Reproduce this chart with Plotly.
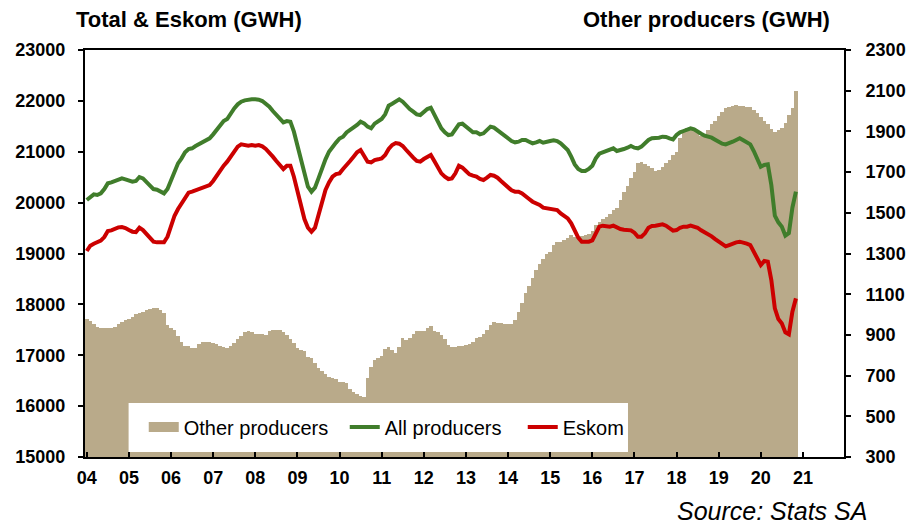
import plotly.graph_objects as go

# ---------------- data (monthly, Jan 2004 - Nov 2020) ----------------
start_year = 2004

all_producers = [
    20051, 20097, 20163, 20150, 20182, 20267, 20379, 20398, 20425, 20451, 20477, 20457,  # 2004
    20425, 20411, 20425, 20503, 20477, 20411, 20333, 20267, 20254, 20228, 20182, 20267,  # 2005
    20444, 20641, 20772, 20870, 20988, 21054, 21067, 21113, 21146, 21185, 21211, 21263,  # 2006
    21342, 21427, 21526, 21604, 21644, 21755, 21853, 21932, 21984, 22010, 22030, 22030,  # 2007
    22030, 22024, 21997, 21952, 21886, 21801, 21722, 21670, 21578, 21604, 21591, 21395,  # 2008
    21132, 20837, 20543, 20313, 20215, 20294, 20477, 20674, 20850, 21000, 21100, 21180,  # 2009
    21260, 21296, 21381, 21427, 21473, 21526, 21591, 21558, 21493, 21460, 21552, 21604,  # 2010
    21644, 21735, 21906, 21945, 21984, 22030, 21984, 21906, 21840, 21788, 21735, 21722,  # 2011
    21788, 21840, 21866, 21735, 21578, 21460, 21381, 21329, 21342, 21447, 21539, 21552,  # 2012
    21493, 21427, 21381, 21381, 21342, 21362, 21427, 21493, 21473, 21421, 21381, 21329,  # 2013
    21277, 21211, 21185, 21198, 21231, 21231, 21198, 21165, 21185, 21211, 21178, 21185,  # 2014
    21211, 21224, 21211, 21165, 21100, 21034, 20903, 20752, 20661, 20621, 20621, 20661,  # 2015
    20726, 20870, 20962, 20988, 21028, 21041, 21067, 21014, 21028, 21054, 21080, 21113,  # 2016
    21080, 21067, 21100, 21165, 21231, 21264, 21264, 21277, 21296, 21290, 21264, 21244,  # 2017
    21329, 21381, 21408, 21434, 21460, 21440, 21408, 21355, 21316, 21303, 21277, 21237,  # 2018
    21198, 21159, 21145, 21165, 21198, 21231, 21264, 21224, 21185, 21145, 21014, 20857,  # 2019
    20706, 20740, 20752, 20346, 19743, 19612, 19527, 19350, 19400, 19900, 20215,         # 2020
]

eskom = [
    19049, 19153, 19193, 19219, 19252, 19324, 19442, 19455, 19488, 19514, 19520, 19501,  # 2004
    19461, 19429, 19422, 19507, 19461, 19376, 19298, 19232, 19219, 19212, 19219, 19330,  # 2005
    19547, 19743, 19874, 19992, 20110, 20195, 20215, 20241, 20261, 20294, 20320, 20346,  # 2006
    20425, 20530, 20621, 20726, 20805, 20910, 21014, 21100, 21146, 21132, 21119, 21132,  # 2007
    21119, 21132, 21106, 21054, 20988, 20903, 20818, 20726, 20660, 20726, 20726, 20510,  # 2008
    20215, 19920, 19678, 19507, 19429, 19507, 19769, 20031, 20248, 20399, 20510, 20560,  # 2009
    20575, 20661, 20726, 20818, 20903, 20988, 21034, 20936, 20805, 20792, 20837, 20851,  # 2010
    20870, 20936, 21054, 21132, 21172, 21159, 21113, 21034, 20949, 20883, 20818, 20805,  # 2011
    20857, 20903, 20936, 20818, 20687, 20575, 20510, 20464, 20477, 20575, 20726, 20687,  # 2012
    20621, 20556, 20530, 20510, 20464, 20444, 20490, 20543, 20530, 20490, 20425, 20359,  # 2013
    20307, 20241, 20215, 20215, 20182, 20117, 20071, 20018, 19986, 19953, 19900, 19887,  # 2014
    19887, 19874, 19855, 19789, 19743, 19691, 19592, 19461, 19311, 19232, 19232, 19232,  # 2015
    19258, 19376, 19527, 19547, 19533, 19527, 19547, 19507, 19481, 19468, 19461, 19455,  # 2016
    19409, 19330, 19330, 19396, 19507, 19540, 19547, 19560, 19573, 19547, 19494, 19448,  # 2017
    19461, 19507, 19527, 19527, 19547, 19533, 19507, 19455, 19416, 19389, 19337, 19284,  # 2018
    19232, 19186, 19140, 19166, 19199, 19219, 19232, 19219, 19193, 19166, 19035, 18904,  # 2019
    18773, 18852, 18839, 18478, 17921, 17712, 17626, 17450, 17410, 17855, 18118,         # 2020
]

other_producers = [
    978, 968, 952, 939, 932, 932, 932, 932, 940, 952, 965, 975,              # 2004
    978, 990, 1001, 1006, 1014, 1024, 1026, 1031, 1034, 1022, 1006, 949,     # 2005
    936, 924, 896, 867, 847, 844, 837, 834, 854, 863, 865, 863,              # 2006
    860, 854, 845, 841, 837, 845, 862, 880, 896, 913, 919, 913,              # 2007
    906, 903, 903, 900, 919, 922, 924, 922, 913, 900, 880, 858,              # 2008
    834, 827, 821, 793, 788, 760, 739, 723, 706, 695, 690, 682,              # 2009
    670, 669, 662, 634, 618, 608, 601, 596, 687, 744, 777, 788,              # 2010
    798, 831, 841, 826, 809, 842, 883, 875, 883, 903, 919, 919,              # 2011
    919, 932, 945, 919, 913, 900, 880, 850, 842, 842, 844, 844,              # 2012
    850, 857, 867, 883, 890, 906, 924, 949, 965, 960, 957, 955,              # 2013
    952, 955, 973, 1014, 1055, 1104, 1142, 1181, 1219, 1247, 1273, 1296,     # 2014
    1309, 1342, 1355, 1358, 1366, 1378, 1391, 1381, 1378, 1385, 1391, 1397,  # 2015
    1411, 1440, 1456, 1470, 1478, 1494, 1514, 1525, 1563, 1601, 1633, 1673,  # 2016
    1699, 1746, 1751, 1740, 1728, 1719, 1705, 1712, 1727, 1743, 1759, 1784,  # 2017
    1800, 1866, 1902, 1915, 1915, 1912, 1892, 1879, 1888, 1908, 1935, 1951,  # 2018
    1977, 1997, 2013, 2022, 2023, 2030, 2026, 2023, 2022, 2018, 2005, 1989,  # 2019
    1972, 1951, 1935, 1912, 1895, 1907, 1915, 1940, 1981, 2017, 2099,        # 2020
]

year_ticks = list(range(2004, 2022))
year_labels = ["04", "05", "06", "07", "08", "09", "10", "11", "12",
               "13", "14", "15", "16", "17", "18", "19", "20", "21"]

# month positions as decimal years
x = [start_year + i / 12 for i in range(len(other_producers))]

BAR = "#B9AA8A"
GREEN = "#407D2B"
RED = "#CC0000"
FONT = "Arial, Liberation Sans, sans-serif"

fig = go.Figure()

fig.add_trace(go.Bar(
    x=x, y=other_producers, name="Other producers", yaxis="y",
    marker=dict(color=BAR, line=dict(width=0)), width=1 / 12,
    showlegend=False,
))
# legend proxy for the bar series (wide swatch as in the original)
fig.add_trace(go.Scatter(
    x=[None], y=[None], mode="lines", name="Other producers", yaxis="y",
    line=dict(color=BAR, width=12), legendwidth=156,
))
fig.add_trace(go.Scatter(
    x=x, y=all_producers, name="All producers", yaxis="y2", mode="lines",
    line=dict(color=GREEN, width=4), legendwidth=133,
))
fig.add_trace(go.Scatter(
    x=x, y=eskom, name="Eskom", yaxis="y2", mode="lines",
    line=dict(color=RED, width=4),
))

tickfont = dict(family=FONT, size=18, color="black", weight="bold")

fig.update_layout(
    width=918, height=527,
    margin=dict(l=85, r=67, t=50, b=70),
    paper_bgcolor="white", plot_bgcolor="white",
    bargap=0,
    hovermode=False,
    font=dict(family=FONT, color="black"),
    xaxis=dict(
        range=[2003.958, 2021.975], tickvals=year_ticks, ticktext=year_labels,
        ticks="inside", ticklen=5, tickwidth=2, tickcolor="black",
        showline=True, linecolor="black", linewidth=2, mirror=True,
        showgrid=False, zeroline=False, tickfont=tickfont,
        ticklabelstandoff=3,
    ),
    yaxis=dict(
        side="right", range=[300, 2300], dtick=200, tick0=300,
        ticks="outside", ticklen=5, tickwidth=2, tickcolor="black",
        showline=True, linecolor="black", linewidth=2,
        showgrid=False, zeroline=False, tickfont=tickfont,
        ticklabelstandoff=11,
    ),
    yaxis2=dict(
        overlaying="y", side="left", range=[15000, 23000], dtick=1000,
        tickformat="d",
        ticks="outside", ticklen=5, tickwidth=2, tickcolor="black",
        showline=True, linecolor="black", linewidth=2,
        showgrid=False, zeroline=False, tickfont=tickfont,
        ticklabelstandoff=9,
    ),
    legend=dict(
        orientation="h", x=0.0774, xanchor="left", y=0.0737, yanchor="middle",
        bgcolor="rgba(0,0,0,0)", borderwidth=0,
        font=dict(family=FONT, size=20, color="black"),
        traceorder="normal",
    ),
    shapes=[dict(
        type="rect", xref="paper", yref="paper", layer="above",
        x0=(129 - 85) / 766, x1=(633 - 85) / 766,
        y0=(457 - 452) / 407, y1=(457 - 403) / 407,
        fillcolor="white", line=dict(width=0),
    )],
    annotations=[
        dict(text="Total & Eskom (GWH)", xref="paper", yref="paper",
             x=(74 - 85) / 766, y=(457 - 20) / 407, xanchor="left", yanchor="middle",
             showarrow=False, font=dict(family=FONT, size=22, color="black", weight="bold")),
        dict(text="Other producers (GWH)", xref="paper", yref="paper",
             x=(839 - 85) / 766, y=(457 - 20) / 407, xanchor="right", yanchor="middle",
             showarrow=False, font=dict(family=FONT, size=22, color="black", weight="bold")),
        dict(text="<i>Source: Stats SA</i>", xref="paper", yref="paper",
             x=(876 - 85) / 766, y=(457 - 527) / 407, xanchor="right", yanchor="bottom",
             showarrow=False, font=dict(family=FONT, size=25, color="black")),
    ],
)

# remove the default page margin so the 918x527 figure fills the window exactly
fig.write_html(
    "out.html",
    config={"displayModeBar": False},
    post_script="document.body.style.margin='0';document.body.style.overflow='hidden';",
)
